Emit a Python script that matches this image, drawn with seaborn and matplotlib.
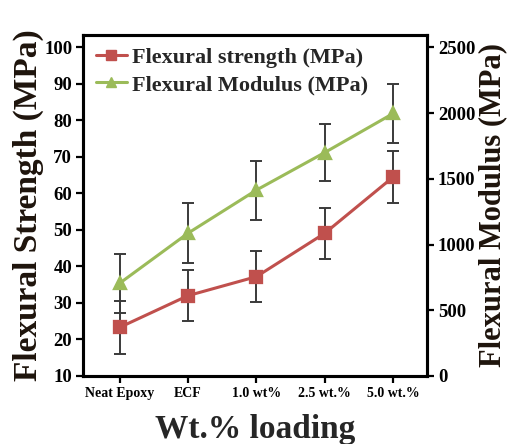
import numpy as np
import pandas as pd
import seaborn as sns
import matplotlib.pyplot as plt
from matplotlib.lines import Line2D

# data
loadings = ['Neat Epoxy', 'ECF', '1.0 wt%', '2.5 wt.%', '5.0 wt.%']
strength = [23.3, 32.0, 37.2, 49.1, 64.5]
strength_err = [7.2, 7.0, 7.0, 7.0, 7.1]
modulus = [705, 1086, 1414, 1700, 1997]
modulus_err = [225, 230, 225, 220, 225]

df = pd.DataFrame({'Loading': loadings, 'Strength': strength, 'Modulus': modulus})

sns.set_style('ticks')
plt.rcParams['font.family'] = ['Liberation Serif', 'DejaVu Serif']
plt.rcParams['font.weight'] = 'bold'

red = '#C0504D'
green = '#9BBB59'
ebar = '#3a3a3a'

fig = plt.figure(figsize=(5.09, 4.44), dpi=100)
ax = fig.add_axes([0.1637, 0.1532, 0.6746, 0.768])
ax2 = ax.twinx()

# strength on left axis
sns.pointplot(data=df, x='Loading', y='Strength', order=loadings, ax=ax,
              color=red, markers='s', markersize=8, linewidth=2.2, errorbar=None, zorder=3)
pos = np.arange(len(loadings))
ax.errorbar(pos, strength, yerr=strength_err, fmt='none', ecolor=ebar,
            elinewidth=1.4, capsize=4, capthick=1.4, zorder=2)

# modulus on right axis
sns.pointplot(data=df, x='Loading', y='Modulus', order=loadings, ax=ax2,
              color=green, markers='^', markersize=8, linewidth=2.2, errorbar=None, zorder=3)
ax2.errorbar(pos, modulus, yerr=modulus_err, fmt='none', ecolor=ebar,
             elinewidth=1.4, capsize=4, capthick=1.4, zorder=2)

ax.set_xlim(-0.53, 4.49)
ax.set_ylim(10, 103.4)
ax2.set_ylim(0, 2594)
ax.set_yticks(range(10, 101, 10))
ax2.set_yticks(range(0, 2501, 500))

ax.set_xticks(pos)
ax.set_xticklabels(loadings, fontsize=10, fontweight='bold')
for lab in ax.get_yticklabels() + ax2.get_yticklabels():
    lab.set_fontsize(13.5)
    lab.set_fontweight('bold')

for a in (ax, ax2):
    for s in a.spines.values():
        s.set_linewidth(2.2)
        s.set_color('black')
    a.tick_params(direction='out', length=5, width=1.6, colors='black', pad=3)

ax.set_xlabel('Wt.% loading', fontsize=24, fontweight='bold', labelpad=10)
ax.set_ylabel('Flexural Strength (MPa)', fontsize=24, fontweight='bold', color='#1e140c', labelpad=0)
ax2.set_ylabel('Flexural Modulus (MPa)', fontsize=22, fontweight='bold', color='#1e140c', labelpad=2)

handles = [Line2D([], [], color=red, marker='s', markersize=7, linewidth=2.2),
           Line2D([], [], color=green, marker='^', markersize=7, linewidth=2.2)]
ax.legend(handles, ['Flexural strength (MPa)', 'Flexural Modulus (MPa)'],
          loc='upper left', bbox_to_anchor=(0.0, 1.0), frameon=False,
          prop={'size': 16, 'weight': 'bold'}, handlelength=1.4, handletextpad=0.25,
          labelspacing=0.3, borderaxespad=0.15)

fig.savefig('out.png', dpi=100)
